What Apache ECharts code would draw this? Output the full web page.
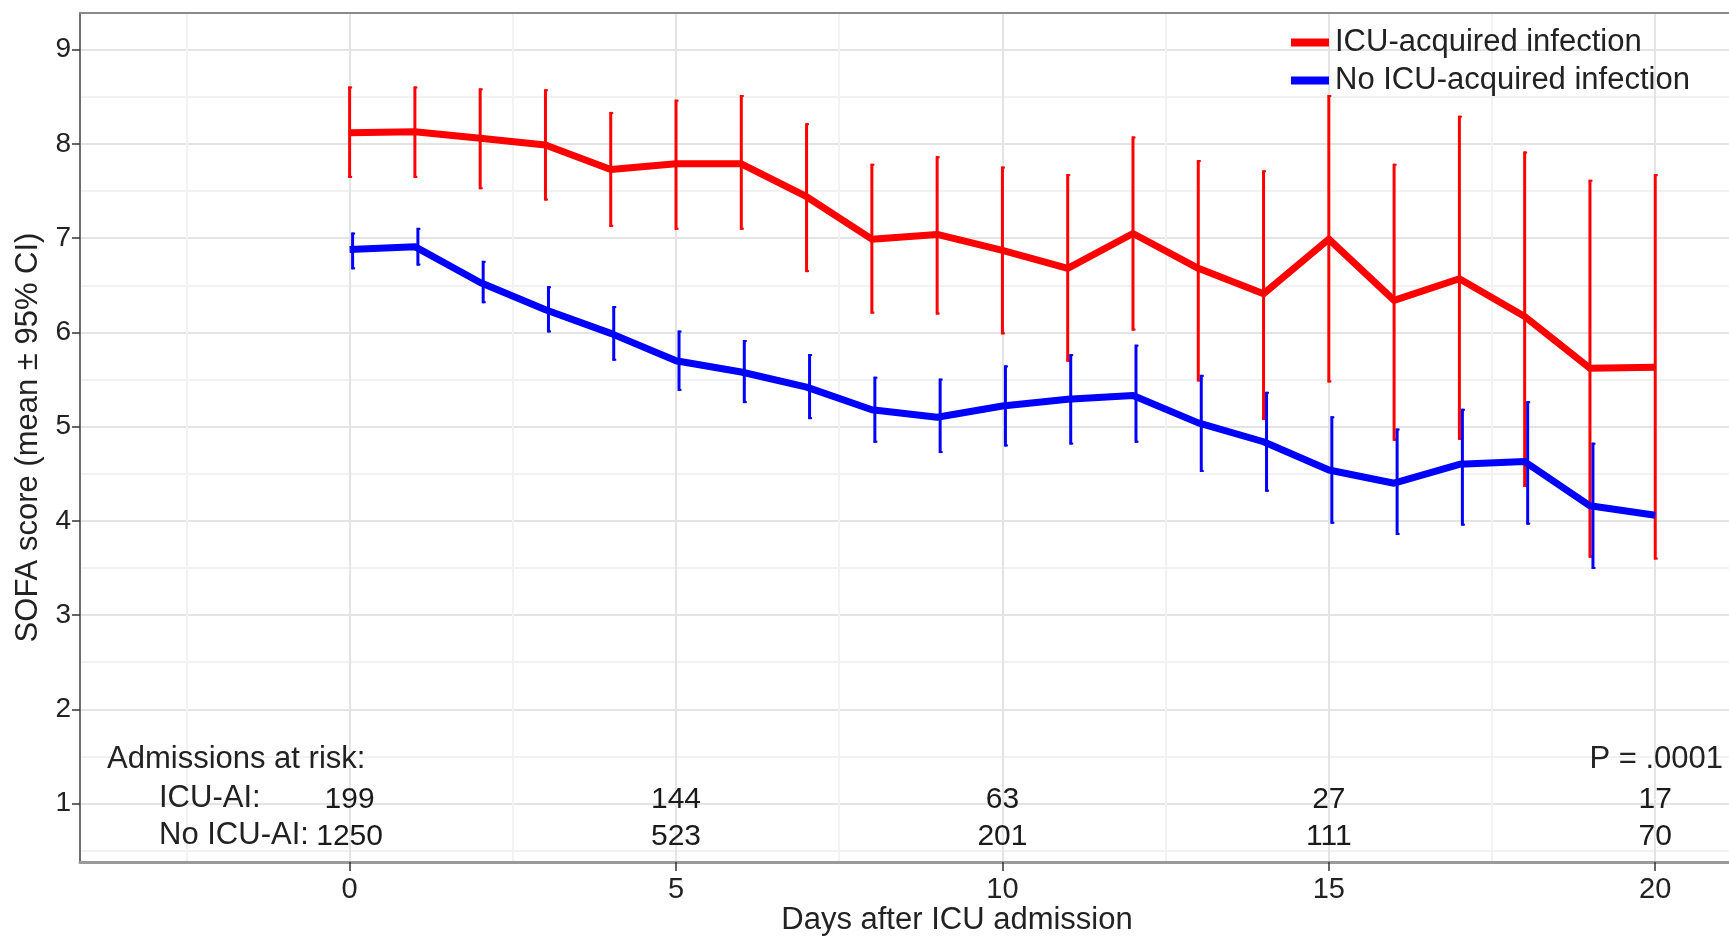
<!DOCTYPE html>
<html>
<head>
<meta charset="utf-8">
<script src="https://cdn.jsdelivr.net/npm/echarts@6/dist/echarts.min.js"></script>
<style>
  html, body { margin: 0; padding: 0; background: #fff; }
  #chart { width: 1729px; height: 936px; }
</style>
</head>
<body>
<div id="chart"></div>
<script>
// ==============================
// data
// ==============================
const days = [0, 1, 2, 3, 4, 5, 6, 7, 8, 9, 10, 11, 12, 13, 14, 15, 16, 17, 18, 19, 20];

// ICU-acquired infection: mean and 95% CI
const icuMean = [8.12, 8.13, 8.06, 7.99, 7.73, 7.79, 7.79, 7.44, 6.99, 7.04, 6.87, 6.68, 7.05, 6.68, 6.41, 6.99, 6.34, 6.57, 6.17, 5.62, 5.63];
const icuLow  = [7.64, 7.64, 7.52, 7.40, 7.12, 7.09, 7.09, 6.64, 6.20, 6.19, 5.98, 5.69, 6.02, 5.48, 5.07, 5.47, 4.85, 4.86, 4.36, 3.61, 3.59];
const icuHigh = [8.61, 8.61, 8.59, 8.58, 8.34, 8.47, 8.52, 8.22, 7.79, 7.87, 7.76, 7.68, 8.08, 7.83, 7.72, 8.52, 7.79, 8.30, 7.92, 7.62, 7.68];

// No ICU-acquired infection: mean and 95% CI
const noMean = [6.88, 6.91, 6.53, 6.24, 5.99, 5.70, 5.58, 5.42, 5.18, 5.10, 5.22, 5.29, 5.33, 5.04, 4.84, 4.54, 4.40, 4.60, 4.63, 4.16, 4.06];
const noLow  = [6.67, 6.71, 6.31, 6.00, 5.70, 5.38, 5.25, 5.08, 4.83, 4.72, 4.79, 4.81, 4.83, 4.52, 4.31, 3.97, 3.85, 3.95, 3.96, 3.49, null];
const noHigh = [7.06, 7.11, 6.76, 6.49, 6.28, 6.02, 5.92, 5.77, 5.53, 5.51, 5.65, 5.77, 5.87, 5.55, 5.37, 5.11, 4.98, 5.19, 5.27, 4.83, null];

// admissions at risk
const riskDays = [0, 5, 10, 15, 20];
const riskIcu = [199, 144, 63, 27, 17];
const riskNoIcu = [1250, 523, 201, 111, 70];

// axis ticks
const xTicks = [0, 5, 10, 15, 20];
const xMinorTicks = [-2.5, 2.5, 7.5, 12.5, 17.5];
const yTicks = [1, 2, 3, 4, 5, 6, 7, 8, 9];
const yMinorTicks = [0.5, 1.5, 2.5, 3.5, 4.5, 5.5, 6.5, 7.5, 8.5];

const seriesNames = ['ICU-acquired infection', 'No ICU-acquired infection'];
const colors = ['#ff0000', '#0000ff'];

// ==============================
// chart
// ==============================
const FONT = '"Liberation Sans", Arial, sans-serif';
const TXT = '#222';
const X_MIN = -4.13, X_MAX = 21.13;
const Y_MIN = 0.38, Y_MAX = 9.39;

const chart = echarts.init(document.getElementById('chart'));

function errorBars(low, high, shift, color) {
  const data = [];
  days.forEach((d, i) => {
    if (low[i] != null && high[i] != null) data.push([d, low[i], high[i]]);
  });
  return {
    type: 'custom',
    xAxisIndex: 0,
    yAxisIndex: 0,
    data,
    z: 3,
    silent: true,
    renderItem: (params, api) => {
      const top = api.coord([api.value(0), api.value(2)]);
      const bot = api.coord([api.value(0), api.value(1)]);
      const cx = top[0] + shift;
      return {
        type: 'group',
        children: [
          { type: 'line', shape: { x1: cx, y1: top[1], x2: cx, y2: bot[1] }, style: { stroke: color, lineWidth: 3 } },
          { type: 'line', shape: { x1: cx - 1, y1: top[1] + 1, x2: cx + 2.5, y2: top[1] + 1 }, style: { stroke: color, lineWidth: 2 } },
          { type: 'line', shape: { x1: cx - 1, y1: bot[1] - 1, x2: cx + 2.5, y2: bot[1] - 1 }, style: { stroke: color, lineWidth: 2 } }
        ]
      };
    }
  };
}

// risk table numbers, placed on the day axis
function riskRow(values, yLevel) {
  return {
    type: 'scatter',
    xAxisIndex: 0,
    yAxisIndex: 0,
    silent: true,
    symbol: 'rect',
    symbolSize: 1,
    z: 10,
    itemStyle: { color: '#fff', opacity: 1 },
    data: riskDays.map((d, i) => [d, yLevel, values[i]]),
    label: {
      show: true,
      position: 'inside',
      formatter: p => String(p.value[2]),
      color: '#1a1a1a',
      opacity: 1,
      textBorderWidth: 0,
      fontSize: 30,
      fontFamily: FONT
    }
  };
}

const lineSeries = [icuMean, noMean].map((vals, i) => ({
  name: seriesNames[i],
  type: 'line',
  xAxisIndex: 0,
  yAxisIndex: 0,
  data: days.map((d, k) => [d, vals[k]]),
  showSymbol: false,
  symbol: 'none',
  z: 4,
  lineStyle: { color: colors[i], width: 7, join: 'round' },
  itemStyle: { color: colors[i] }
}));

const txt = (text, pos) => Object.assign({
  type: 'text', z: 100,
  style: { text, fill: TXT, font: '31px ' + FONT }
}, pos);

chart.setOption({
  backgroundColor: '#fff',
  animation: false,
  grid: { left: 80, right: 0, top: 13, bottom: 74 },
  legend: {
    data: seriesNames,
    orient: 'vertical',
    left: 1286,
    top: 22,
    icon: 'rect',
    itemWidth: 38,
    itemHeight: 8,
    itemGap: 7,
    textStyle: { color: TXT, fontSize: 31, fontFamily: FONT, padding: [0, 0, 0, 1] }
  },
  xAxis: [
    {
      type: 'value',
      min: X_MIN,
      max: X_MAX,
      position: 'bottom',
      axisLine: { show: true, onZero: false, lineStyle: { color: '#9a9a9a', width: 3 } },
      axisTick: { show: true, customValues: xTicks, length: 9, lineStyle: { color: '#333', width: 1.5 } },
      axisLabel: { customValues: xTicks, margin: 13, color: TXT, fontSize: 29, fontFamily: FONT },
      splitLine: { show: true, lineStyle: { color: '#e4e4e4', width: 2 } }
    },
    {
      type: 'value',
      min: X_MIN,
      max: X_MAX,
      position: 'top',
      axisLine: { show: true, onZero: false, lineStyle: { color: '#8a8a8a', width: 2 } },
      axisTick: { show: false, customValues: xMinorTicks },
      axisLabel: { show: false },
      splitLine: { show: true, lineStyle: { color: '#f2f2f2', width: 2 } }
    }
  ],
  yAxis: [
    {
      type: 'value',
      min: Y_MIN,
      max: Y_MAX,
      name: 'SOFA score (mean \u00b1 95% CI)',
      nameLocation: 'middle',
      nameGap: 36,
      nameTextStyle: { color: TXT, fontSize: 31, fontFamily: FONT },
      axisLine: { show: true, onZero: false, lineStyle: { color: '#6e6e6e', width: 2 } },
      axisTick: { show: true, customValues: yTicks, length: 8, lineStyle: { color: '#333', width: 1.5 } },
      axisLabel: { customValues: yTicks, margin: 9, color: TXT, fontSize: 28, fontFamily: FONT },
      splitLine: { show: true, lineStyle: { color: '#e4e4e4', width: 2 } }
    },
    {
      type: 'value',
      min: Y_MIN,
      max: Y_MAX,
      position: 'left',
      axisLine: { show: false },
      axisTick: { show: false, customValues: yMinorTicks },
      axisLabel: { show: false },
      splitLine: { show: true, lineStyle: { color: '#f2f2f2', width: 2 } }
    }
  ],
  graphic: [
    txt('Admissions at risk:', { left: 107, top: 744 }),
    txt('ICU-AI:', { left: 159, top: 783 }),
    txt('No ICU-AI:', { left: 159, top: 820 }),
    txt('P = .0001', { right: 6, top: 744 }),
    {
      type: 'text', z: 100, x: 957, y: 920,
      style: { text: 'Days after ICU admission', fill: TXT, font: '31px ' + FONT, align: 'center', verticalAlign: 'middle' }
    }
  ],
  series: [
    lineSeries[0],
    errorBars(icuLow, icuHigh, 0, colors[0]),
    lineSeries[1],
    errorBars(noLow, noHigh, 3, colors[1]),
    riskRow(riskIcu, 1.044),
    riskRow(riskNoIcu, 0.644)
  ]
});

window.addEventListener('resize', () => chart.resize());
</script>
</body>
</html>
